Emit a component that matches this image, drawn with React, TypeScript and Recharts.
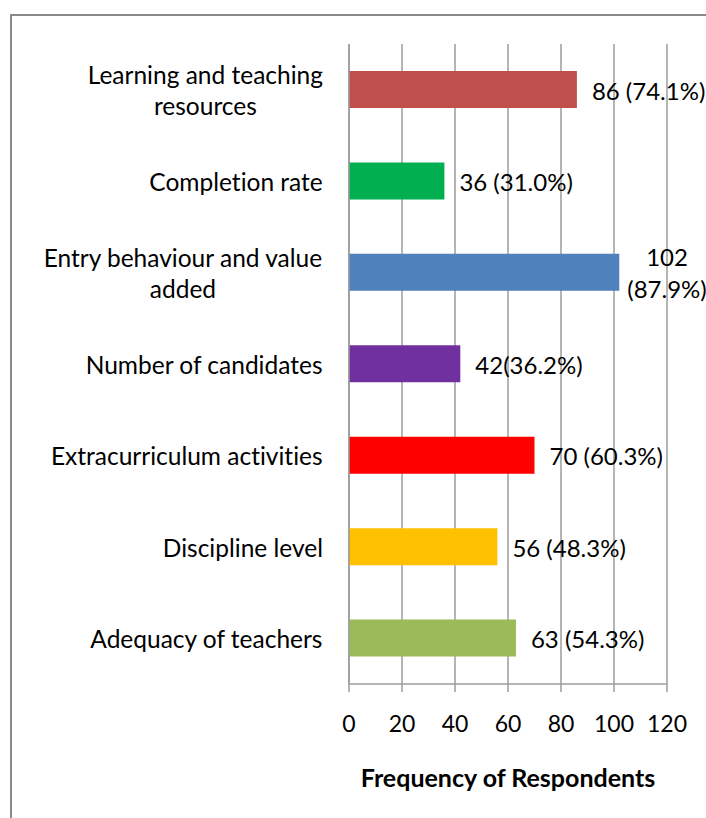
import React from 'react';
import { BarChart, Bar, XAxis, YAxis, CartesianGrid, Cell, LabelList } from 'recharts';

const categories = [
  'Learning and teaching resources',
  'Completion rate',
  'Entry behaviour and value added',
  'Number of candidates',
  'Extracurriculum activities',
  'Discipline level',
  'Adequacy of teachers',
];
const frequencies = [86, 36, 102, 42, 70, 56, 63];
const valueLabels = ['86 (74.1%)', '36 (31.0%)', '102 (87.9%)', '42(36.2%)', '70 (60.3%)', '56 (48.3%)', '63 (54.3%)'];
const barColors = ['#C0504D', '#00B050', '#4F81BD', '#7030A0', '#FF0000', '#FFC000', '#9BBB59'];
const xTicks = [0, 20, 40, 60, 80, 100, 120];
const edgeTicks = [0, 1, 2, 3, 4, 5, 6, 7];

const data = categories.map((name, i) => ({ name, value: frequencies[i], label: valueLabels[i] }));

const FONT = 'Lato, Carlito, sans-serif';
const CAT_SIZE = 24.5;
const VAL_SIZE = 24;
const LINE = 31;
const GRID = '#9d9d9d';
const noLig = { fontVariantLigatures: 'none', fontFeatureSettings: '"liga" 0, "clig" 0' } as React.CSSProperties;

let ctx: CanvasRenderingContext2D | null = null;
const measure = (text: string, size: number) => {
  if (!ctx) ctx = document.createElement('canvas').getContext('2d');
  if (!ctx) return text.length * size * 0.5;
  ctx.font = `${size}px Lato`;
  return ctx.measureText(text).width;
};

// greedy word wrap, like the spreadsheet does
const wrap = (text: string, size: number, maxWidth: number) => {
  const words = text.split(' ');
  const lines: string[] = [];
  let cur = '';
  words.forEach((w) => {
    const next = cur ? `${cur} ${w}` : w;
    if (cur && measure(next, size) > maxWidth) {
      lines.push(cur);
      cur = w;
    } else cur = next;
  });
  if (cur) lines.push(cur);
  return lines;
};

const CategoryTick = (props: any) => {
  const { x, y, payload } = props;
  const lines = wrap(payload.value, CAT_SIZE, 300);
  const blockW = Math.max(...lines.map((l) => measure(l, CAT_SIZE)));
  const cx = x - blockW / 2;
  const y0 = y - ((lines.length - 1) * LINE) / 2;
  return (
    <text x={cx} y={y0} textAnchor="middle" dominantBaseline="central" fontFamily={FONT} fontSize={CAT_SIZE} fill="#000" style={noLig}>
      {lines.map((l, i) => (
        <tspan key={i} x={cx} y={y0 + i * LINE}>{l}</tspan>
      ))}
    </text>
  );
};

const ValueLabel = (props: any) => {
  const { x, y, width, height, value } = props;
  const left = x + width + 15;
  const full = measure(String(value), VAL_SIZE);
  const lines = left + full > 720 ? wrap(String(value), VAL_SIZE, 10) : [String(value)];
  const blockW = Math.max(...lines.map((l) => measure(l, VAL_SIZE)));
  const multi = lines.length > 1;
  const cx = multi ? left - 7 + blockW / 2 : left;
  const y0 = y + height / 2 - ((lines.length - 1) * 32) / 2;
  return (
    <text x={cx} y={y0} textAnchor={multi ? 'middle' : 'start'} dominantBaseline="central" fontFamily={FONT} fontSize={VAL_SIZE} fill="#000" style={noLig}>
      {lines.map((l, i) => (
        <tspan key={i} x={cx} y={y0 + i * 32}>{l}</tspan>
      ))}
    </text>
  );
};

export default function App() {
  return (
    <div style={{ position: 'absolute', left: 0, top: 0, width: 706, height: 818, overflow: 'hidden', background: '#fff' }}>
      <div style={{ position: 'absolute', left: 0, top: 0 }}>
        <BarChart
          width={706}
          height={818}
          data={data}
          layout="vertical"
          margin={{ top: 44, right: 39, bottom: 24, left: 0 }}
        >
          <CartesianGrid vertical horizontal={false} stroke={GRID} strokeWidth={1.5} />
          <XAxis
            type="number"
            dataKey="value"
            domain={[0, 120]}
            ticks={xTicks}
            interval={0}
            height={110}
            axisLine={{ stroke: GRID, strokeWidth: 1.5 }}
            tickLine={{ stroke: GRID, strokeWidth: 1.5 }}
            tickSize={8}
            tickMargin={24}
            tick={{ fontFamily: FONT, fontSize: 23, fill: '#000' }}
            label={{
              value: 'Frequency of Respondents',
              position: 'insideBottom',
              offset: 7,
              style: { fontFamily: FONT, fontSize: 25, fontWeight: 700, fill: '#000' },
            }}
          />
          {/* category names (outer) */}
          <YAxis
            yAxisId="b"
            type="category"
            dataKey="name"
            width={348}
            axisLine={false}
            tickLine={false}
            tickSize={0}
            tickMargin={25}
            interval={0}
            tick={<CategoryTick />}
          />
          {/* axis line with tick marks at the band edges (inner) */}
          <YAxis
            yAxisId="a"
            type="number"
            domain={[0, edgeTicks.length - 1]}
            ticks={edgeTicks}
            interval={0}
            width={1}
            tick={false}
            tickSize={8}
            axisLine={{ stroke: GRID, strokeWidth: 1.5 }}
            tickLine={{ stroke: GRID, strokeWidth: 1.5 }}
          />
          <Bar dataKey="value" yAxisId="b" barSize={37} isAnimationActive={false}>
            {data.map((d, i) => (
              <Cell key={d.name} fill={barColors[i]} />
            ))}
            <LabelList dataKey="label" content={<ValueLabel />} />
          </Bar>
        </BarChart>
      </div>
      <div
        style={{
          position: 'absolute',
          left: 10,
          top: 14,
          width: 720,
          height: 820,
          border: '2px solid #8a8a8a',
          pointerEvents: 'none',
        }}
      />
    </div>
  );
}
